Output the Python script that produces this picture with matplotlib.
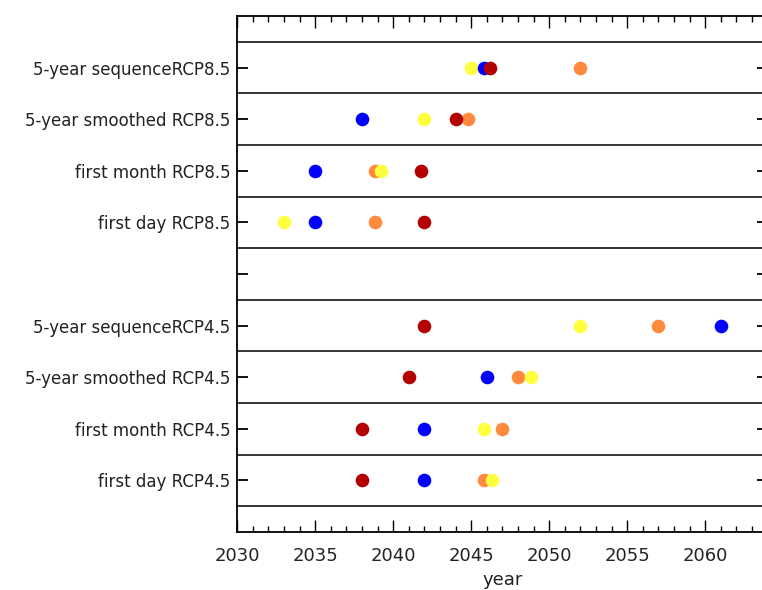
import numpy as np
import matplotlib.pyplot as plt

# row labels, bottom to top (row 5 is an empty spacer)
labels = ['first day RCP4.5', 'first month RCP4.5', '5-year smoothed RCP4.5',
          '5-year sequenceRCP4.5', '', 'first day RCP8.5', 'first month RCP8.5',
          '5-year smoothed RCP8.5', '5-year sequenceRCP8.5']
rows = np.arange(1, 10)

# year of emergence for each of the four series
orange = [2045.8, 2047.0, 2048.0, 2057.0, np.nan, 2038.8, 2038.8, 2044.8, 2052.0]
yellow = [2046.3, 2045.8, 2048.8, 2052.0, np.nan, 2033.0, 2039.2, 2042.0, 2045.0]
blue = [2042.0, 2042.0, 2046.0, 2061.0, np.nan, 2035.0, 2035.0, 2038.0, 2045.8]
red = [2038.0, 2038.0, 2041.0, 2042.0, np.nan, 2042.0, 2041.8, 2044.0, 2046.2]

fig = plt.figure(figsize=(7.62, 5.90), dpi=100)
ax = fig.add_axes([0.3114, 0.0983, 0.696, 0.8746])

# separator lines between rows
for yl in np.arange(0.5, 10, 1.0):
    ax.axhline(yl, color='#333333', lw=1.4, zorder=1)

for vals, col in [(orange, '#ff8a3d'), (yellow, '#ffff40'),
                  (blue, '#0000ff'), (red, '#b30000')]:
    ax.plot(vals, rows, 'o', color=col, markersize=9.8, markeredgewidth=0, zorder=3)

ax.set_xlim(2030, 2064)
ax.set_ylim(0, 10)
ax.set_xticks(np.arange(2030, 2061, 5))
ax.set_xticks(np.arange(2030, 2065, 1), minor=True)
ax.set_yticks(rows)
ax.set_yticklabels(labels, fontsize=12, color='#222222')
ax.tick_params(axis='x', which='major', direction='in', top=True, length=8.5, width=1,
               labelsize=13, pad=11, labelcolor='#222222')
ax.tick_params(axis='x', which='minor', direction='in', top=True, length=4.5, width=1)
ax.tick_params(axis='y', direction='in', right=True, length=8, width=1.3, pad=5)
for s in ax.spines.values():
    s.set_linewidth(1.3)
ax.set_xlabel('year', fontsize=13, labelpad=4, color='#222222')

fig.savefig('out.png', dpi=100)
